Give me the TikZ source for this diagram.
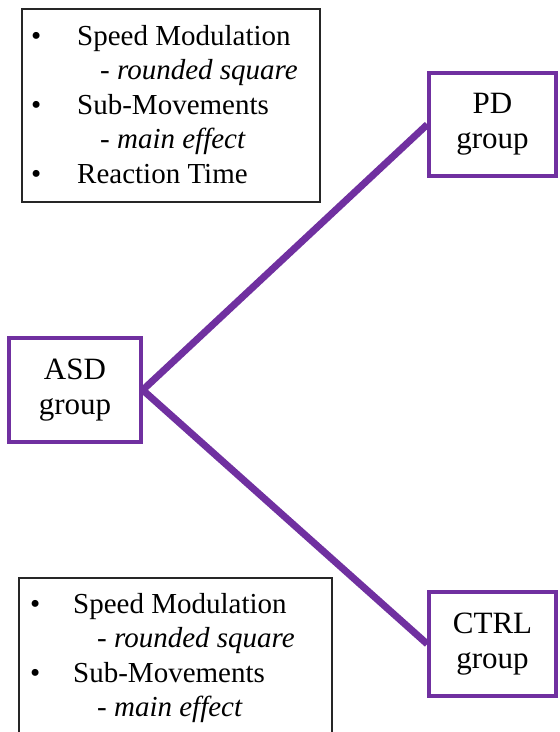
\documentclass[tikz,border=0pt]{standalone}
\usepackage{fontspec}
\setmainfont{Liberation Serif}
\definecolor{grouppurple}{HTML}{7030A0}
\definecolor{framegray}{HTML}{262626}
\begin{document}
\begin{tikzpicture}[x=1pt,y=-1pt,
  groupbox/.style={draw=grouppurple, line width=3.5pt, fill=white, rectangle,
    inner sep=0pt, align=center, font=\fontsize{31}{35}\selectfont},
  listbox/.style={draw=framegray, line width=1.6pt, fill=white, rectangle, inner sep=0pt},
  item/.style={anchor=base west, inner sep=0pt, font=\fontsize{29}{34}\selectfont},
  link/.style={draw=grouppurple, line width=7pt, line join=round}]
\useasboundingbox (0,0) rectangle (560,732);
\clip (0,0) rectangle (560,732);
\fill[white] (0,0) rectangle (560,732);

% findings boxes
\node[listbox, minimum width=298pt, minimum height=193pt] (topbox) at (171,105.5) {};
\node[listbox, minimum width=313pt, minimum height=182pt] (botbox) at (175.5,669) {};

% group boxes
\node[groupbox, minimum width=132pt, minimum height=104pt] (asd) at (75,390) {ASD\\group};
\node[groupbox, minimum width=127pt, minimum height=103pt] (pd) at (492.5,124.5) {PD\\group};
\node[groupbox, minimum width=127pt, minimum height=104pt] (ctrl) at (492.5,644) {CTRL\\group};

% connectors
\draw[link] (pd.west) -- (asd.east) -- (ctrl.west);

% list in the upper box
\node[item] (tb1) at (31,45) {•};
\node[item] (tt1) at (77,45) {Speed Modulation};
\node[item] (tt2) at (100,79.5) {\itshape - rounded square};
\node[item] (tb2) at (31,114) {•};
\node[item] (tt3) at (77,114) {Sub-Movements};
\node[item] (tt4) at (100,148.5) {\itshape - main effect};
\node[item] (tb3) at (31,183) {•};
\node[item] (tt5) at (77,183) {Reaction Time};

% list in the lower box
\node[item] (bb1) at (30,613) {•};
\node[item] (bt1) at (73,613) {Speed Modulation};
\node[item] (bt2) at (97,647.5) {\itshape - rounded square};
\node[item] (bb2) at (30,682) {•};
\node[item] (bt3) at (73,682) {Sub-Movements};
\node[item] (bt4) at (97,716.5) {\itshape - main effect};
\end{tikzpicture}
\end{document}
